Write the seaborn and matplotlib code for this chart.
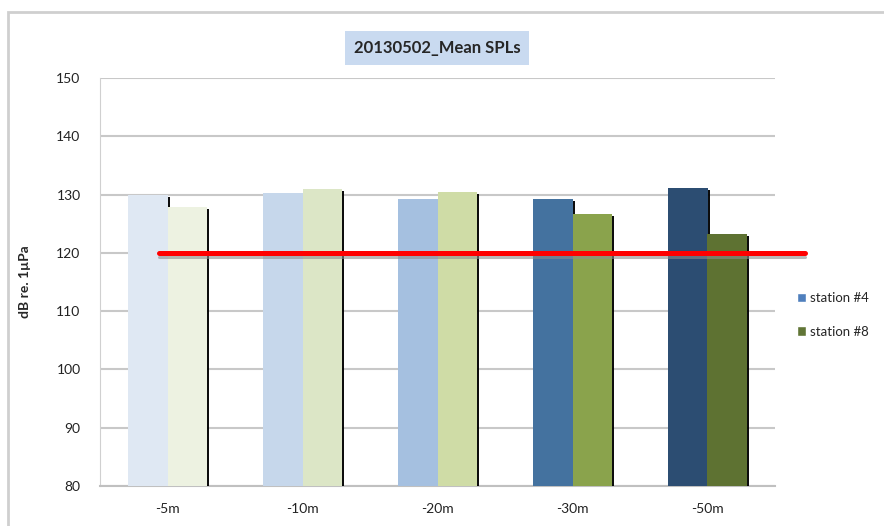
import pandas as pd
import seaborn as sns
import matplotlib.pyplot as plt
import matplotlib.patheffects as pe
from matplotlib.patches import Rectangle, Patch

# values
depths = ["-5m", "-10m", "-20m", "-30m", "-50m"]
station4 = [130.0, 130.3, 129.3, 129.2, 131.2]
station8 = [127.9, 130.9, 130.4, 126.7, 123.3]
threshold = 120
yticks = [80, 90, 100, 110, 120, 130, 140, 150]

colors4 = ["#dfe8f3", "#c6d7eb", "#a5c0e0", "#44729f", "#2c4d72"]
colors8 = ["#edf2e1", "#dce6c6", "#cfdca6", "#8aa34c", "#5e7232"]

df = pd.DataFrame({
    "depth": depths * 2,
    "SPL": station4 + station8,
    "station": ["station #4"] * 5 + ["station #8"] * 5,
})

sns.set_style("white")
plt.rcParams["font.family"] = ["Lato", "DejaVu Sans"]

fig = plt.figure(figsize=(8.84, 5.26), dpi=100)
ax = fig.add_axes([100 / 884, 1 - 486 / 526, 675 / 884, 408 / 526])

sns.barplot(data=df, x="depth", y="SPL", hue="station", order=depths,
            width=0.58, ax=ax, legend=False, zorder=3)

# recolour each bar and give it the black drop shadow
for container, cols in zip(ax.containers, [colors4, colors8]):
    for bar, c in zip(container, cols):
        bar.set_facecolor(c)
        bar.set_edgecolor("none")
        bar.set_path_effects([pe.SimplePatchShadow(offset=(2, -1.5), shadow_rgbFace="black", alpha=0.95),
                              pe.Normal()])

ax.set_ylim(80, 150)
ax.set_xlim(-0.5, 4.5)
ax.set_yticks(yticks)
ax.yaxis.grid(True, color="#c8c8c8", linewidth=1.5, zorder=0)
ax.set_axisbelow(True)
for s in ["top", "right"]:
    ax.spines[s].set_visible(False)
ax.spines["left"].set_color("#d0d0d0")
ax.spines["bottom"].set_color("#c0c0c0")
ax.spines["bottom"].set_linewidth(1.5)
ax.tick_params(axis="both", length=0, labelsize=10, colors="#222222")
ax.tick_params(axis="y", pad=14)
ax.tick_params(axis="x", pad=12)
ax.set_xlabel("")
ax.set_ylabel("dB re. 1µPa", fontsize=10, fontweight="bold", labelpad=18)

# threshold line with thin grey shadow underneath
ax.plot([-0.065, 4.72], [threshold, threshold], color="#ff0000", lw=3.6,
        clip_on=False, zorder=5,
        path_effects=[pe.SimpleLineShadow(offset=(0, -3.2), shadow_color="#8c8c8c", alpha=0.6,
                                          linewidth=2.2),
                      pe.Normal()])

fig.text(437 / 884, 1 - 48 / 526, "20130502_Mean SPLs", ha="center", va="center",
         fontsize=12, fontweight="bold",
         bbox=dict(boxstyle="square,pad=0.55", facecolor="#c9daf0", edgecolor="none"))

handles = [Patch(facecolor="#4f7fbd", label="station #4"),
           Patch(facecolor="#617536", label="station #8")]
fig.legend(handles=handles, loc="center left", bbox_to_anchor=(785 / 884, 1 - 315 / 526),
           frameon=False, fontsize=9.5, handlelength=0.7, handleheight=0.7,
           handletextpad=0.3, labelspacing=1.6)

# outer chart border
fig.add_artist(Rectangle((8 / 884, -0.1), 1.2, 1.1 - 12 / 526, transform=fig.transFigure,
                         fill=False, edgecolor="#cfcfcf", linewidth=2))

fig.savefig("out.png", dpi=100)
